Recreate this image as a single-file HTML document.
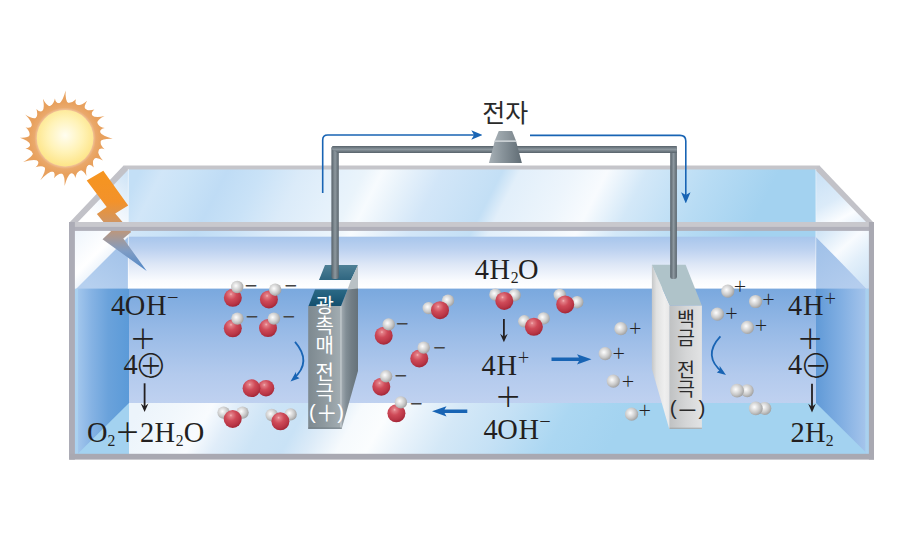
<!DOCTYPE html>
<html lang="ko"><head><meta charset="utf-8"><title>광촉매 물 분해</title>
<style>
html,body{margin:0;padding:0;background:#fff;}
svg{display:block}
.sf{font-family:"Liberation Serif","Noto Sans CJK KR",serif;fill:#231f20}
.sg{font-family:"Liberation Sans","Noto Sans CJK KR",sans-serif;fill:#454545}
.sk{font-family:"Liberation Sans","Noto Sans CJK KR","NanumGothic",sans-serif;fill:#2a2a2a;font-weight:300}
.skw{font-family:"Liberation Sans","Noto Sans CJK KR","NanumGothic",sans-serif;fill:#ffffff}
.sp{font-family:"Liberation Sans","Noto Sans CJK KR","NanumGothic",sans-serif;fill:#231f20;font-weight:400}
.sp2{font-family:"Liberation Sans","Noto Sans CJK KR","NanumGothic",sans-serif;fill:#231f20;font-weight:350}
.sl{font-family:"Liberation Sans","Noto Sans CJK KR","DejaVu Sans",sans-serif;fill:#231f20;font-weight:300}
.skr{font-family:"Liberation Sans","Noto Sans CJK KR","NanumGothic",sans-serif;fill:#2a2a2a;font-weight:400}
</style></head><body>
<svg width="900" height="540" viewBox="0 0 900 540">
<rect width="900" height="540" fill="#ffffff"/>

<defs>
 <radialGradient id="gO" cx="0.4" cy="0.3" r="0.8">
  <stop offset="0" stop-color="#f6b6b8"/><stop offset="0.1" stop-color="#e27e86"/><stop offset="0.38" stop-color="#cf4a58"/><stop offset="0.7" stop-color="#b93646"/><stop offset="1" stop-color="#951c2c"/>
 </radialGradient>
 <radialGradient id="gH" cx="0.4" cy="0.4" r="0.72">
  <stop offset="0" stop-color="#fefefe"/><stop offset="0.22" stop-color="#e9e9e9"/><stop offset="0.55" stop-color="#c9c9c9"/><stop offset="0.85" stop-color="#a3a3a3"/><stop offset="1" stop-color="#888888"/>
 </radialGradient>
 <radialGradient id="gSun" cx="0.5" cy="0.45" r="0.55">
  <stop offset="0" stop-color="#fffdf0"/><stop offset="0.55" stop-color="#fff3b8"/><stop offset="1" stop-color="#fde487"/>
 </radialGradient>
 <radialGradient id="gCor" cx="0.5" cy="0.5" r="0.5">
  <stop offset="0.78" stop-color="#f2c49c"/><stop offset="0.86" stop-color="#eaa96c"/><stop offset="1" stop-color="#e8a15e"/>
 </radialGradient>
 <linearGradient id="gBolt" x1="0" y1="172" x2="0" y2="271" gradientUnits="userSpaceOnUse">
  <stop offset="0" stop-color="#f6951f"/><stop offset="0.3" stop-color="#f3922a"/><stop offset="0.55" stop-color="#c9966e"/><stop offset="0.8" stop-color="#7f9cc4"/><stop offset="1" stop-color="#4f86c6"/>
 </linearGradient>
 <linearGradient id="gBackTop" x1="128" y1="196" x2="674" y2="474" gradientUnits="userSpaceOnUse">
  <stop offset="0.000" stop-color="#c3dff6"/>
  <stop offset="0.032" stop-color="#d1e6f8"/>
  <stop offset="0.073" stop-color="#cae3f7"/>
  <stop offset="0.126" stop-color="#bfdcf5"/>
  <stop offset="0.177" stop-color="#c9e2f7"/>
  <stop offset="0.235" stop-color="#dbebf9"/>
  <stop offset="0.294" stop-color="#e5f1fb"/>
  <stop offset="0.326" stop-color="#eaf4fb"/>
  <stop offset="0.352" stop-color="#f7fbfe"/>
  <stop offset="0.384" stop-color="#e9f3fb"/>
  <stop offset="0.439" stop-color="#d2e6f8"/>
  <stop offset="0.526" stop-color="#c3dff5"/>
  <stop offset="0.552" stop-color="#e2effa"/>
  <stop offset="0.628" stop-color="#edf5fc"/>
  <stop offset="0.679" stop-color="#f8fbfe"/>
  <stop offset="0.737" stop-color="#d3e8f8"/>
  <stop offset="0.831" stop-color="#b8dcf4"/>
  <stop offset="0.929" stop-color="#a3d2f0"/>
  <stop offset="1.000" stop-color="#a3d2f0"/>
 </linearGradient>
 <linearGradient id="gBackLow" x1="0" y1="237" x2="0" y2="288" gradientUnits="userSpaceOnUse">
  <stop offset="0" stop-color="#a8c6ec"/><stop offset="0.25" stop-color="#bdd2f0"/><stop offset="0.55" stop-color="#dfe8f7"/><stop offset="0.85" stop-color="#f9fbfe"/><stop offset="1" stop-color="#ffffff"/>
 </linearGradient>
 <linearGradient id="gWater" x1="0" y1="288" x2="0" y2="403" gradientUnits="userSpaceOnUse">
  <stop offset="0" stop-color="#79a8de"/><stop offset="0.35" stop-color="#96b9e6"/><stop offset="0.75" stop-color="#b3caed"/><stop offset="1" stop-color="#bfd1f0"/>
 </linearGradient>
 <linearGradient id="gFloor" x1="129" y1="428" x2="644" y2="725" gradientUnits="userSpaceOnUse">
  <stop offset="0.000" stop-color="#ecf4fb"/>
  <stop offset="0.052" stop-color="#f1f7fc"/>
  <stop offset="0.103" stop-color="#f8fbfe"/>
  <stop offset="0.140" stop-color="#e0edf9"/>
  <stop offset="0.191" stop-color="#cde4f6"/>
  <stop offset="0.242" stop-color="#c9e2f6"/>
  <stop offset="0.278" stop-color="#dcebf8"/>
  <stop offset="0.322" stop-color="#f6fafd"/>
  <stop offset="0.365" stop-color="#fbfdfe"/>
  <stop offset="0.409" stop-color="#e9f3fb"/>
  <stop offset="0.467" stop-color="#d4e8f7"/>
  <stop offset="0.540" stop-color="#c5e1f5"/>
  <stop offset="0.627" stop-color="#abd7f2"/>
  <stop offset="0.715" stop-color="#a3d3f0"/>
  <stop offset="1.000" stop-color="#a3d3f0"/>
 </linearGradient>
 <linearGradient id="gLWater" x1="75" y1="0" x2="129" y2="0" gradientUnits="userSpaceOnUse">
  <stop offset="0" stop-color="#a8caee"/><stop offset="0.3" stop-color="#86b3e4"/><stop offset="0.62" stop-color="#6aa2db"/><stop offset="1" stop-color="#5b9ad8"/>
 </linearGradient>
 <linearGradient id="gRWater" x1="816" y1="0" x2="870" y2="0" gradientUnits="userSpaceOnUse">
  <stop offset="0" stop-color="#619ad7"/><stop offset="0.45" stop-color="#80aee2"/><stop offset="1" stop-color="#abc8ed"/>
 </linearGradient>
 <linearGradient id="gLTop" x1="75" y1="230" x2="120" y2="275" gradientUnits="userSpaceOnUse">
  <stop offset="0" stop-color="#eef5fc"/><stop offset="0.5" stop-color="#ffffff"/><stop offset="1" stop-color="#cfe2f6"/>
 </linearGradient>
 <linearGradient id="gRTop" x1="816" y1="172" x2="852" y2="236" gradientUnits="userSpaceOnUse">
  <stop offset="0" stop-color="#c9e1f6"/><stop offset="0.45" stop-color="#dbebf9"/><stop offset="0.72" stop-color="#fbfdff"/><stop offset="1" stop-color="#dcebf9"/>
 </linearGradient>
 <linearGradient id="gRMid" x1="822" y1="228" x2="872" y2="284" gradientUnits="userSpaceOnUse">
  <stop offset="0" stop-color="#cfe4f6"/><stop offset="0.38" stop-color="#f8fbfe"/><stop offset="0.62" stop-color="#e2effa"/><stop offset="1" stop-color="#cbe1f5"/>
 </linearGradient>
 <linearGradient id="gRLow" x1="816" y1="240" x2="850" y2="290" gradientUnits="userSpaceOnUse">
  <stop offset="0" stop-color="#9fc0e8"/><stop offset="1" stop-color="#b4cdee"/>
 </linearGradient>
 <linearGradient id="gLTri" x1="128" y1="172" x2="92" y2="215" gradientUnits="userSpaceOnUse">
  <stop offset="0" stop-color="#cde3f6"/><stop offset="0.6" stop-color="#eef5fc"/><stop offset="1" stop-color="#ffffff"/>
 </linearGradient>
 <linearGradient id="gLLow" x1="128" y1="240" x2="95" y2="290" gradientUnits="userSpaceOnUse">
  <stop offset="0" stop-color="#9fc0e8"/><stop offset="1" stop-color="#b6d0ef"/>
 </linearGradient>
 <linearGradient id="gWire" x1="0" y1="0" x2="1" y2="0">
  <stop offset="0" stop-color="#566169"/><stop offset="0.5" stop-color="#8d989f"/><stop offset="1" stop-color="#59646c"/>
 </linearGradient>
 <linearGradient id="gWireH" x1="0" y1="0" x2="0" y2="1">
  <stop offset="0" stop-color="#566169"/><stop offset="0.5" stop-color="#8d989f"/><stop offset="1" stop-color="#59646c"/>
 </linearGradient>
 <linearGradient id="gBulb" x1="0" y1="0" x2="1" y2="0">
  <stop offset="0" stop-color="#a7b0b6"/><stop offset="0.4" stop-color="#89949b"/><stop offset="1" stop-color="#606c74"/>
 </linearGradient>
 <linearGradient id="gE1Front" x1="308" y1="0" x2="341" y2="0" gradientUnits="userSpaceOnUse">
  <stop offset="0" stop-color="#7d8990"/><stop offset="0.5" stop-color="#8e999f"/><stop offset="1" stop-color="#a3adb2"/>
 </linearGradient>
 <linearGradient id="gE1Side" x1="341" y1="0" x2="358" y2="0" gradientUnits="userSpaceOnUse">
  <stop offset="0" stop-color="#a4adb3"/><stop offset="0.3" stop-color="#828e96"/><stop offset="0.6" stop-color="#727e86"/><stop offset="1" stop-color="#66727a"/>
 </linearGradient>
 <linearGradient id="gE1Top" x1="0" y1="289" x2="0" y2="306" gradientUnits="userSpaceOnUse">
  <stop offset="0" stop-color="#2c6a86"/><stop offset="1" stop-color="#134f6e"/>
 </linearGradient>
 <linearGradient id="gE1TopA" x1="0" y1="265" x2="0" y2="280" gradientUnits="userSpaceOnUse">
  <stop offset="0" stop-color="#4f8096"/><stop offset="1" stop-color="#2f6680"/>
 </linearGradient>
 <linearGradient id="gE2Front" x1="669" y1="0" x2="702" y2="0" gradientUnits="userSpaceOnUse">
  <stop offset="0" stop-color="#bfc1c2"/><stop offset="0.5" stop-color="#d4d5d6"/><stop offset="1" stop-color="#e2e3e4"/>
 </linearGradient>
 <linearGradient id="gE2Side" x1="652" y1="0" x2="670" y2="0" gradientUnits="userSpaceOnUse">
  <stop offset="0" stop-color="#c6c8c9"/><stop offset="0.25" stop-color="#e0e1e1"/><stop offset="0.7" stop-color="#efefef"/><stop offset="1" stop-color="#e6e6e6"/>
 </linearGradient>
 <marker id="mb" viewBox="0 0 10 10" refX="6" refY="5" markerWidth="7" markerHeight="7" orient="auto-start-reverse"><path d="M0,0.8 L10,5 L0,9.2 L2.5,5 z" fill="#1864b4"/></marker>
</defs>

<polygon points="128,169 816,169 816,224 128,224" fill="url(#gBackTop)"/>
<polygon points="72,224 126,168 128,168 128,224" fill="url(#gLTri)"/>
<polygon points="816,168 818,168 872,224 816,224" fill="url(#gRTop)"/>
<rect x="128" y="229" width="688" height="8" fill="url(#gBackTop)"/>
<rect x="128" y="236.7" width="688" height="52.5" fill="url(#gBackLow)"/>
<polygon points="74,229 128,229 128,237 78,288 74,288" fill="url(#gLTop)"/>
<polygon points="128,237 128,289 76,289" fill="url(#gLLow)"/>
<polygon points="816,229 870,229 870,289 867,289 816,237" fill="url(#gRMid)"/>
<polygon points="816,237 867,289 816,289" fill="url(#gRLow)"/>
<rect x="128" y="288.6" width="688" height="115" fill="url(#gWater)"/>
<rect x="74" y="288.6" width="55" height="167" fill="url(#gLWater)"/>
<rect x="816" y="288.6" width="54" height="167" fill="url(#gRWater)"/>
<rect x="129" y="403" width="687" height="52" fill="url(#gFloor)"/>
<polygon points="129,403 129,455 78,455 78,453.5" fill="#a3d2f0"/>
<rect x="74.5" y="289" width="3.6" height="166" fill="#acd3f0" opacity="0.85"/>
<polygon points="816,403 865.5,452 865.5,455 816,455" fill="#a3d2f0"/>
<rect x="865.3" y="289" width="3.8" height="166" fill="#a9d2f0" opacity="0.85"/>
<polygon points="123.6,165.4 819.4,165.4 821.5,169.6 126,169.6" fill="#c5c5ca"/>
<polygon points="69,223 123.6,165.4 128.5,169.6 76,224" fill="#c2c2c8"/>
<polygon points="819.4,165.4 874,223 868,224 815,169.6" fill="#c2c2c8"/>
<rect x="127.8" y="169" width="1.2" height="120" fill="#ffffff" opacity="0.5"/>
<rect x="815.2" y="169" width="1.2" height="120" fill="#ffffff" opacity="0.4"/>
<polygon points="86.7,180.4 103.3,170.7 128.2,205.6 115.2,213.6 131.2,232 123.3,238.4 146.7,271.1 102.5,239.3 111,231.3 96.9,214 106.7,207.1" fill="url(#gBolt)"/>
<rect x="69" y="222" width="805" height="5.2" fill="#c8c8cd"/>
<rect x="69" y="226.9" width="805" height="4" fill="#b0b0ba"/>
<rect x="69" y="222" width="5.9" height="237.7" fill="#acacb6"/>
<rect x="868.9" y="222" width="5.1" height="237.6" fill="#a9a9b2"/>
<rect x="69.5" y="453.8" width="804.5" height="5.8" fill="#a9a9b2"/>
<path d="M59.1,103.5 Q63.0,100.8 65.6,90.4 Q65.1,100.7 68.3,103.1 Q72.5,102.8 76.0,99.2 Q74.4,103.3 77.3,105.2 Q81.6,105.4 87.2,100.7 Q83.4,106.4 85.4,109.4 Q89.3,111.2 94.4,109.5 Q90.7,112.6 92.1,115.7 Q96.1,117.9 104.5,116.0 Q97.1,119.7 97.1,123.4 Q99.5,126.9 104.8,128.0 Q100.1,128.8 99.8,132.2 Q102.5,136.1 112.7,138.7 Q102.5,138.2 100.2,141.4 Q100.6,145.6 104.6,149.2 Q100.1,147.6 98.1,150.4 Q97.9,154.8 103.0,160.6 Q97.0,156.6 93.9,158.5 Q92.1,162.4 93.8,167.5 Q90.7,163.8 87.6,165.2 Q85.2,168.9 86.5,176.1 Q83.5,170.0 79.9,170.2 Q76.4,172.6 75.3,177.9 Q74.5,173.2 71.1,172.9 Q67.2,175.6 64.6,186.0 Q65.1,175.7 61.9,173.3 Q57.7,173.8 54.0,178.2 Q55.7,173.3 52.9,171.2 Q48.1,171.8 40.3,180.2 Q46.3,170.8 44.8,167.0 Q40.9,165.3 35.5,167.3 Q39.4,163.9 38.1,160.7 Q33.7,158.8 23.1,161.9 Q32.6,157.0 33.1,153.0 Q30.7,149.5 25.4,148.4 Q30.1,147.6 30.4,144.2 Q28.2,140.3 19.9,137.7 Q28.1,138.2 30.0,135.0 Q29.6,130.8 25.6,127.2 Q30.1,128.8 32.1,126.0 Q31.9,121.4 25.2,114.6 Q32.9,119.6 36.3,117.9 Q38.1,114.0 36.4,108.9 Q39.5,112.6 42.6,111.2 Q44.8,107.2 42.9,98.8 Q46.6,106.2 50.3,106.2 Q53.8,103.8 54.9,98.5 Q55.7,103.2 59.1,103.5Z" fill="#e8a15e"/>
<circle cx="65.1" cy="138.2" r="35.8" fill="url(#gCor)"/>
<circle cx="65.1" cy="138.2" r="28.3" fill="url(#gSun)"/>
<polygon points="325,265 358,265 351,280 319,280" fill="url(#gE1TopA)"/>
<polygon points="358,265 358,289.5 347.5,289.5 351,280" fill="#b9c1c5"/>
<polygon points="341,306 347.5,289.5 358,288.5 358,371 341.7,428.8 341,428.8" fill="url(#gE1Side)"/>
<polygon points="315,289.5 347.5,289.5 341,306 308.5,306" fill="url(#gE1Top)"/>
<rect x="308.2" y="306" width="33.4" height="122.8" fill="url(#gE1Front)"/>
<rect x="340.1" y="306" width="1.6" height="122.8" fill="#bcc4c8"/>
<rect x="308.2" y="427.6" width="33.4" height="1.2" fill="#66727a" opacity="0.7"/>
<polygon points="651.9,264.8 669.8,305.6 669.8,428.8 669.2,428.8 651.9,369" fill="url(#gE2Side)"/>
<polygon points="651.9,264.8 685.6,264.8 701.8,305.6 669.8,305.6" fill="#afc3c9"/>
<rect x="669.5" y="305.6" width="32.4" height="123.2" fill="url(#gE2Front)"/>
<rect x="669.5" y="427.7" width="32.4" height="1.1" fill="#9a9c9e" opacity="0.8"/>
<rect x="331.4" y="146" width="7.4" height="133" rx="2.5" fill="url(#gWire)"/>
<rect x="670.2" y="146" width="6.7" height="133" rx="2.5" fill="url(#gWire)"/>
<path d="M333.5,145.9 H676.8 V152.9 H338 L331.6,149 Q331.6,145.9 333.5,145.9 Z" fill="url(#gWireH)"/>
<path d="M498.8,131 H512.1 L515.9,140.6 Q518.6,151 521.9,163.1 H488.9 Q492.2,151 494.9,140.6 Z" fill="url(#gBulb)"/>
<path d="M498.8,131 H512.1 L515.9,140.6 H494.9 Z" fill="#ffffff" opacity="0.13"/>
<polygon points="494.8,140.3 515.9,140.3 516.4,142.1 494.3,142.1" fill="#c9cfd3"/>
<path d="M322.7,193 V140 Q322.7,135 327.7,135 H478" fill="none" stroke="#1864b4" stroke-width="1.6" marker-end="url(#mb)"/>
<path d="M530,135.4 H680 Q685.8,135.4 685.8,141 V199" fill="none" stroke="#1864b4" stroke-width="1.6" marker-end="url(#mb)"/>
<path d="M551.5,357.6 H579 L577,354.2 L591.5,359.3 L577,364.4 L579,361 H551.5 Z" fill="#1864b4"/>
<path d="M467.3,409.6 H444.5 L446.5,406.2 L432,411.3 L446.5,416.4 L444.5,413 H467.3 Z" fill="#1864b4"/>
<path d="M295,341.8 Q312.5,362 293.5,378.5" fill="none" stroke="#1864b4" stroke-width="1.8"/>
<path d="M290.5,381.5 L299.5,378.3 L296.2,376 L296,371.8 Z" fill="#1864b4"/>
<path d="M720.4,336.3 Q702,356 722.8,372.5" fill="none" stroke="#1864b4" stroke-width="1.8"/>
<path d="M726,375 L716.8,372.6 L719.8,370 L719.6,365.8 Z" fill="#1864b4"/>
<circle cx="232.8" cy="297.8" r="9.0" fill="url(#gO)"/>
<circle cx="237.2" cy="287" r="6.2" fill="url(#gH)"/>
<text x="251.1" y="293.4" font-size="21.5" text-anchor="middle" class="sg">−</text>
<circle cx="268.9" cy="299.4" r="9.0" fill="url(#gO)"/>
<circle cx="275.2" cy="289.7" r="6.2" fill="url(#gH)"/>
<text x="290.9" y="293.4" font-size="21.5" text-anchor="middle" class="sg">−</text>
<circle cx="232.8" cy="328.3" r="9.0" fill="url(#gO)"/>
<circle cx="237.4" cy="318.6" r="6.2" fill="url(#gH)"/>
<text x="252.1" y="324.3" font-size="21.5" text-anchor="middle" class="sg">−</text>
<circle cx="268" cy="328.1" r="9.0" fill="url(#gO)"/>
<circle cx="273.9" cy="318.6" r="6.2" fill="url(#gH)"/>
<text x="288.9" y="324.3" font-size="21.5" text-anchor="middle" class="sg">−</text>
<circle cx="383.7" cy="335.7" r="9.0" fill="url(#gO)"/>
<circle cx="388.7" cy="324.4" r="6.2" fill="url(#gH)"/>
<text x="402.2" y="331.4" font-size="21.5" text-anchor="middle" class="sg">−</text>
<circle cx="419.3" cy="358.5" r="9.0" fill="url(#gO)"/>
<circle cx="423.7" cy="347.6" r="6.2" fill="url(#gH)"/>
<text x="439.5" y="355.1" font-size="21.5" text-anchor="middle" class="sg">−</text>
<circle cx="381.3" cy="386.7" r="9.0" fill="url(#gO)"/>
<circle cx="386.1" cy="376.3" r="6.2" fill="url(#gH)"/>
<text x="400.8" y="383.3" font-size="21.5" text-anchor="middle" class="sg">−</text>
<circle cx="396.4" cy="413.3" r="9.0" fill="url(#gO)"/>
<circle cx="400.9" cy="402.4" r="6.2" fill="url(#gH)"/>
<text x="416.3" y="410.6" font-size="21.5" text-anchor="middle" class="sg">−</text>
<circle cx="266" cy="388.2" r="8.3" fill="url(#gO)"/>
<circle cx="251.5" cy="388.2" r="8.9" fill="url(#gO)"/>
<circle cx="223.6" cy="412.6" r="6.2" fill="url(#gH)"/>
<circle cx="242.5" cy="412.6" r="6.2" fill="url(#gH)"/>
<circle cx="232.7" cy="419" r="9.0" fill="url(#gO)"/>
<circle cx="271.7" cy="415" r="6.2" fill="url(#gH)"/>
<circle cx="290.6" cy="414.4" r="6.2" fill="url(#gH)"/>
<circle cx="280.4" cy="421.3" r="9.0" fill="url(#gO)"/>
<circle cx="428.7" cy="308.1" r="6.2" fill="url(#gH)"/>
<circle cx="448" cy="300.7" r="6.2" fill="url(#gH)"/>
<circle cx="440" cy="310.2" r="9.0" fill="url(#gO)"/>
<circle cx="495.4" cy="294.7" r="6.2" fill="url(#gH)"/>
<circle cx="514.6" cy="295.2" r="6.2" fill="url(#gH)"/>
<circle cx="504.3" cy="300.9" r="9.0" fill="url(#gO)"/>
<circle cx="559.8" cy="295" r="6.2" fill="url(#gH)"/>
<circle cx="577.2" cy="302.2" r="6.2" fill="url(#gH)"/>
<circle cx="565.2" cy="304.4" r="9.0" fill="url(#gO)"/>
<circle cx="524.3" cy="321.3" r="6.2" fill="url(#gH)"/>
<circle cx="543.6" cy="318.4" r="6.2" fill="url(#gH)"/>
<circle cx="533.9" cy="326.8" r="9.0" fill="url(#gO)"/>
<circle cx="620.9" cy="328.7" r="6.6" fill="url(#gH)"/>
<text x="635.3" y="332.7" font-size="14" text-anchor="middle" class="sp">＋</text>
<circle cx="605.2" cy="353.6" r="6.6" fill="url(#gH)"/>
<text x="618.8" y="357.5" font-size="14" text-anchor="middle" class="sp">＋</text>
<circle cx="613.3" cy="381.1" r="6.6" fill="url(#gH)"/>
<text x="628.0" y="386.2" font-size="14" text-anchor="middle" class="sp">＋</text>
<circle cx="631.6" cy="414.2" r="6.6" fill="url(#gH)"/>
<text x="644.8" y="415.1" font-size="14" text-anchor="middle" class="sp">＋</text>
<circle cx="727.8" cy="291.1" r="6.6" fill="url(#gH)"/>
<text x="740.0" y="291.1" font-size="14" text-anchor="middle" class="sp">＋</text>
<circle cx="755.6" cy="301.5" r="6.6" fill="url(#gH)"/>
<text x="768.5" y="304.0" font-size="14" text-anchor="middle" class="sp">＋</text>
<circle cx="717.4" cy="314.1" r="6.6" fill="url(#gH)"/>
<text x="731.5" y="317.7" font-size="14" text-anchor="middle" class="sp">＋</text>
<circle cx="747.4" cy="327.4" r="6.6" fill="url(#gH)"/>
<text x="761.1" y="329.9" font-size="14" text-anchor="middle" class="sp">＋</text>
<circle cx="747.2" cy="390.7" r="6.5" fill="url(#gH)"/>
<circle cx="737.1" cy="390.7" r="6.9" fill="url(#gH)"/>
<circle cx="764.8" cy="408.4" r="6.5" fill="url(#gH)"/>
<circle cx="755.8" cy="408.4" r="6.9" fill="url(#gH)"/>
<text text-anchor="middle" transform="scale(0.96,1)" font-size="29.6" class="sf"><tspan x="123.13" y="315.5">4</tspan><tspan x="140.62" y="315.5">O</tspan><tspan x="162.71" y="315.5">H</tspan><tspan x="180.10" y="302.4" font-size="13.6" class="sp">－</tspan></text>
<text x="143" y="348.6" font-size="26.9" text-anchor="middle" class="sp2">＋</text>
<text text-anchor="middle" font-size="29.6" class="sf"><tspan x="130.6" y="374.3" textLength="14.2" lengthAdjust="spacingAndGlyphs">4</tspan><tspan x="150.9" y="377.8" font-size="32.7" class="sl">⊕</tspan></text>
<text text-anchor="middle" transform="scale(0.96,1)" font-size="29.6" class="sf"><tspan x="101.35" y="441.9">O</tspan><tspan x="116.15" y="445.8" font-size="16.4">2</tspan><tspan x="132.81" y="442.4" font-size="26.6" class="sp">＋</tspan><tspan x="153.33" y="441.9">2</tspan><tspan x="171.56" y="441.9">H</tspan><tspan x="187.19" y="445.8" font-size="16.4">2</tspan><tspan x="201.98" y="441.9">O</tspan></text>
<text text-anchor="middle" transform="scale(0.96,1)" font-size="29.6" class="sf"><tspan x="501.98" y="279.2">4</tspan><tspan x="520.62" y="279.2">H</tspan><tspan x="536.04" y="283.1" font-size="16.4">2</tspan><tspan x="550.21" y="279.2">O</tspan></text>
<text text-anchor="middle" transform="scale(0.96,1)" font-size="29.6" class="sf"><tspan x="509.06" y="374.6">4</tspan><tspan x="527.81" y="374.6">H</tspan><tspan x="545.42" y="362.0" font-size="13.6" class="sp">＋</tspan></text>
<text x="508.1" y="406.7" font-size="26.9" text-anchor="middle" class="sp2">＋</text>
<text text-anchor="middle" transform="scale(0.96,1)" font-size="29.6" class="sf"><tspan x="511.15" y="438.6">4</tspan><tspan x="528.65" y="438.6">O</tspan><tspan x="550.83" y="438.6">H</tspan><tspan x="567.81" y="425.7" font-size="13.6" class="sp">－</tspan></text>
<text text-anchor="middle" transform="scale(0.96,1)" font-size="29.6" class="sf"><tspan x="828.33" y="315.5">4</tspan><tspan x="847.19" y="315.5">H</tspan><tspan x="864.90" y="302.8" font-size="13.6" class="sp">＋</tspan></text>
<text x="810.2" y="348.6" font-size="26.9" text-anchor="middle" class="sp2">＋</text>
<text text-anchor="middle" font-size="29.6" class="sf"><tspan x="795.2" y="374.3" textLength="14.2" lengthAdjust="spacingAndGlyphs">4</tspan><tspan x="816" y="377.8" font-size="32.7" class="sl">⊖</tspan></text>
<text text-anchor="middle" transform="scale(0.96,1)" font-size="29.6" class="sf"><tspan x="830.83" y="441.8">2</tspan><tspan x="849.27" y="441.8">H</tspan><tspan x="864.27" y="445.7" font-size="16.4">2</tspan></text>
<path d="M144.6,383.3 V408.1" stroke="#231f20" stroke-width="1.8" fill="none"/>
<path d="M144.6,412.1 L140.8,403.5 L144.6,406.5 L148.4,403.5 Z" fill="#231f20"/>
<path d="M503.9,318.9 V338.3" stroke="#231f20" stroke-width="1.8" fill="none"/>
<path d="M503.9,342.3 L500.1,333.7 L503.9,336.7 L507.7,333.7 Z" fill="#231f20"/>
<path d="M812,383.7 V408.4" stroke="#231f20" stroke-width="1.8" fill="none"/>
<path d="M812,412.4 L808.2,403.8 L812,406.8 L815.8,403.8 Z" fill="#231f20"/>
<text x="505.3" y="121.6" font-size="25" class="skr" text-anchor="middle">전자</text>
<text text-anchor="middle" x="324.8 324.8 324.8 324.8 324.8 324.8" y="313.3 333.3 353.3 366.3 379.8 399.8" font-size="20" class="skw">광촉매 전극</text>
<text text-anchor="middle" class="skw" font-size="20.2"><tspan x="312.4" y="418.5">(</tspan><tspan x="326.8" y="420.8" font-size="21.5">＋</tspan><tspan x="340.6" y="418.5">)</tspan></text>
<text text-anchor="middle" x="686 686 686 686 686" y="325.8 345.3 361.3 376.8 396.3" font-size="19.5" class="skr">백금 전극</text>
<text text-anchor="middle" class="skr" font-size="20.8"><tspan x="673.3" y="414.8">(</tspan><tspan x="687.5" y="417.5" font-size="21.8">－</tspan><tspan x="701.9" y="414.8">)</tspan></text>
</svg>
</body></html>
